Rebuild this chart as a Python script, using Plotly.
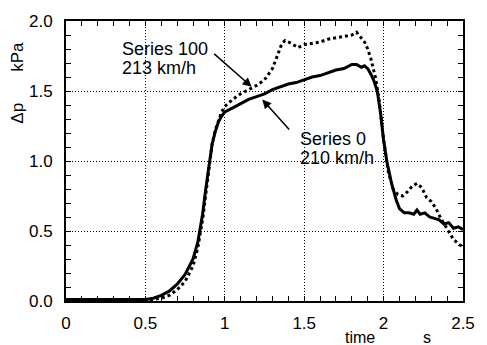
import plotly.graph_objects as go

# Series 0, 210 km/h (solid)
t0 = [0, 0.1, 0.2, 0.3, 0.4, 0.5, 0.55, 0.6, 0.65, 0.7, 0.75, 0.8, 0.83, 0.86, 0.88, 0.9, 0.92, 0.94,
      0.96, 0.98, 1.0, 1.05, 1.1, 1.15, 1.2, 1.25, 1.3, 1.35, 1.4, 1.45, 1.5, 1.55, 1.6, 1.65, 1.7,
      1.75, 1.8, 1.83, 1.86, 1.88, 1.9, 1.92, 1.94, 1.96, 1.98, 2.0, 2.02, 2.05, 2.08, 2.1, 2.13,
      2.16, 2.19, 2.21, 2.23, 2.26, 2.29, 2.32, 2.35, 2.38, 2.41, 2.44, 2.47, 2.5]
p0 = [0.01, 0.01, 0.01, 0.01, 0.01, 0.01, 0.02, 0.04, 0.07, 0.12, 0.19, 0.30, 0.42, 0.62, 0.80, 0.98,
      1.12, 1.21, 1.28, 1.32, 1.35, 1.38, 1.41, 1.44, 1.46, 1.48, 1.51, 1.53, 1.55, 1.56, 1.58, 1.60,
      1.61, 1.63, 1.65, 1.66, 1.69, 1.69, 1.67, 1.68, 1.66, 1.62, 1.57, 1.50, 1.35, 1.15, 1.00, 0.84,
      0.72, 0.66, 0.63, 0.63, 0.62, 0.65, 0.62, 0.63, 0.60, 0.59, 0.58, 0.55, 0.56, 0.52, 0.53, 0.51]

# Series 100, 213 km/h (dotted)
t100 = [0, 0.1, 0.2, 0.3, 0.4, 0.5, 0.55, 0.6, 0.65, 0.7, 0.75, 0.8, 0.83, 0.86, 0.88, 0.9, 0.92, 0.94,
        0.96, 0.98, 1.0, 1.05, 1.1, 1.15, 1.2, 1.25, 1.3, 1.33, 1.36, 1.38, 1.42, 1.46, 1.5, 1.55, 1.6,
        1.65, 1.7, 1.75, 1.8, 1.83, 1.86, 1.88, 1.9, 1.92, 1.95, 1.97, 2.0, 2.03, 2.06, 2.09, 2.12,
        2.15, 2.18, 2.21, 2.24, 2.27, 2.3, 2.33, 2.36, 2.4, 2.44, 2.48, 2.5]
p100 = [0.01, 0.01, 0.01, 0.01, 0.01, 0.01, 0.01, 0.02, 0.04, 0.08, 0.14, 0.25, 0.38, 0.58, 0.76, 0.96,
        1.12, 1.22, 1.29, 1.35, 1.39, 1.44, 1.48, 1.51, 1.54, 1.58, 1.66, 1.75, 1.84, 1.86, 1.84, 1.81,
        1.83, 1.84, 1.85, 1.87, 1.88, 1.89, 1.90, 1.92, 1.88, 1.85, 1.80, 1.73, 1.59, 1.45, 1.15, 0.92,
        0.80, 0.76, 0.75, 0.78, 0.82, 0.84, 0.81, 0.74, 0.71, 0.66, 0.59, 0.51, 0.44, 0.40, 0.39]

x_ticks = [0, 0.5, 1, 1.5, 2, 2.5]
x_tick_labels = ["0", "0.5", "1", "1.5", "2", "2.5"]
y_ticks = [0, 0.5, 1.0, 1.5, 2.0]
y_tick_labels = ["0.0", "0.5", "1.0", "1.5", "2.0"]

FONT = "Liberation Sans, Arial, Helvetica, sans-serif"

# plot area in pixels (for paper-coordinate helpers)
L, R, T, B = 66, 474, 18, 303
W, H = 487, 345


def px(xp):
    return (xp - L) / (R - L)


def py(yp):
    return (B - yp) / (B - T)


fig = go.Figure()
fig.add_trace(go.Scatter(x=t0, y=p0, mode="lines", line=dict(color="black", width=3),
                         showlegend=False))
fig.add_trace(go.Scatter(x=t100, y=p100, mode="lines",
                         line=dict(color="black", width=3, dash="3px,3px"), showlegend=False))

axis_common = dict(
    showline=True, linecolor="black", linewidth=2, mirror="allticks",
    ticks="inside", ticklen=5, tickwidth=1, tickcolor="black",
    showgrid=True, gridcolor="black", gridwidth=1, griddash="1px,2px",
    zeroline=False, tickfont=dict(family=FONT, size=17, color="black"),
)

fig.update_xaxes(range=[0, 2.5], tickvals=x_ticks, ticktext=x_tick_labels,
                 ticklabelstandoff=6,
                 minor=dict(dtick=0.1, tick0=0, ticks="inside", ticklen=5, tickcolor="black",
                            showgrid=False),
                 **axis_common)
fig.update_yaxes(range=[0, 2.0], tickvals=y_ticks, ticktext=y_tick_labels,
                 ticklabelstandoff=8,
                 minor=dict(dtick=0.1, tick0=0, ticks="inside", ticklen=5, tickcolor="black",
                            showgrid=False),
                 **axis_common)

ann_font = dict(family=FONT, size=18, color="black")
title_font = dict(family=FONT, size=17, color="black")
xtitle_font = dict(family=FONT, size=16, color="black")


def label(x, yp, text):
    return dict(x=px(x), y=py(yp), xref="paper", yref="paper", text=text, showarrow=False,
                xanchor="left", yanchor="middle", font=ann_font)


annotations = [
    label(121, 47, "Series 100"),
    label(121, 66, "213 km/h"),
    dict(x=1.169, y=1.530, ax=0.924, ay=1.775, xref="x", yref="y", axref="x", ayref="y",
         text="", showarrow=True, arrowhead=2, arrowsize=1.2, arrowwidth=1.5, arrowcolor="black"),
    label(304, 138.5, "Series 0"),
    label(304, 157, "210 km/h"),
    dict(x=1.236, y=1.439, ax=1.414, ay=1.214, xref="x", yref="y", axref="x", ayref="y",
         text="", showarrow=True, arrowhead=2, arrowsize=1.2, arrowwidth=1.5, arrowcolor="black"),
    # axis titles
    dict(x=px(16), y=py(54), xref="paper", yref="paper", text="kPa",
         textangle=-90, showarrow=False, xanchor="center", yanchor="middle", font=title_font),
    dict(x=px(16), y=py(112), xref="paper", yref="paper", text="Δp",
         textangle=-90, showarrow=False, xanchor="center", yanchor="middle", font=title_font),
    dict(x=px(368), y=py(329), xref="paper", yref="paper", text="time",
         showarrow=False, xanchor="center", yanchor="top", font=xtitle_font),
    dict(x=px(437), y=py(329), xref="paper", yref="paper", text="s",
         showarrow=False, xanchor="center", yanchor="top", font=xtitle_font),
]

fig.update_layout(
    width=W, height=H,
    margin=dict(l=L, r=W - R, t=T, b=H - B),
    paper_bgcolor="white", plot_bgcolor="white",
    annotations=annotations,
    font=dict(family=FONT, color="black"),
)

fig.write_html("out.html")
